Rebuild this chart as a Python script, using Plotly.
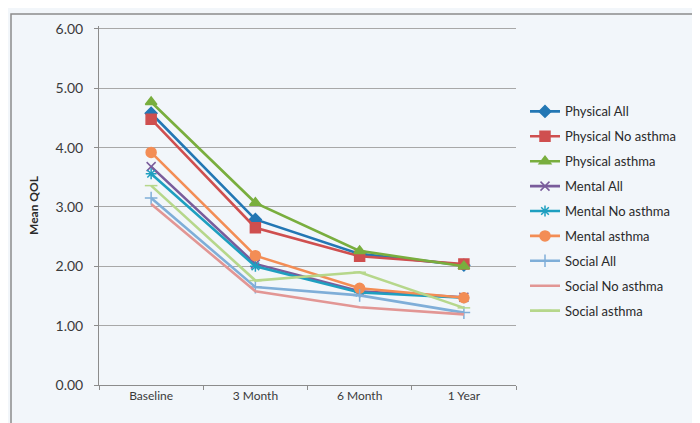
import plotly.graph_objects as go

categories = ["Baseline", "3 Month", "6 Month", "1 Year"]

series_names = ["Physical All", "Physical No asthma", "Physical asthma",
                "Mental All", "Mental No asthma", "Mental asthma",
                "Social All", "Social No asthma", "Social asthma"]

physical_all = [4.58, 2.79, 2.21, 2.02]
physical_no_asthma = [4.48, 2.65, 2.17, 2.04]
physical_asthma = [4.77, 3.07, 2.26, 2.00]
mental_all = [3.68, 2.04, 1.58, 1.48]
mental_no_asthma = [3.56, 2.00, 1.56, 1.47]
mental_asthma = [3.92, 2.18, 1.63, 1.47]
social_all = [3.15, 1.65, 1.51, 1.22]
social_no_asthma = [3.05, 1.58, 1.31, 1.19]
social_asthma = [3.36, 1.76, 1.90, 1.30]

values = [physical_all, physical_no_asthma, physical_asthma,
          mental_all, mental_no_asthma, mental_asthma,
          social_all, social_no_asthma, social_asthma]

colors = ["#2377B4", "#CF4F4F", "#79AE3E", "#7A5C9B", "#1E9FC0",
          "#F38D55", "#7FAED8", "#E29694", "#B6D78B"]
symbols = ["diamond", "square", "triangle-up", "x-thin-open", "asterisk-open",
           "circle", "cross-thin-open", None, "line-ew-open"]
sizes = [9, 10, 10, 9, 9, 10, 9, 0, 9]

fig = go.Figure()
for i, (name, vals) in enumerate(zip(series_names, values)):
    if symbols[i] is None:
        fig.add_trace(go.Scatter(
            x=categories, y=vals, name=name, mode="lines", legendgroup=name,
            line=dict(color=colors[i], width=2.6)))
    else:
        fig.add_trace(go.Scatter(
            x=categories, y=vals, name=name, mode="lines+markers",
            legendgroup=name,
            line=dict(color=colors[i], width=2.6),
            marker=dict(symbol=symbols[i], size=sizes[i], color=colors[i],
                        line=dict(color=colors[i], width=1.5)),
        ))

L, R, T, B = 91, 192, 15, 46
W, H = 700, 423
pw = W - L - R
ph = H - T - B

def px_x(p):
    return (p - L) / pw

def px_y(p):
    return (H - B - p) / ph

fig.add_shape(type="rect", xref="paper", yref="paper",
              x0=px_x(3), x1=px_x(697), y0=px_y(420), y1=px_y(3),
              line=dict(color="#8C8C8C", width=1.5), layer="below")

fig.update_layout(
    width=W, height=H,
    margin=dict(l=L, r=R, t=T, b=B),
    paper_bgcolor="#F2F6FA",
    plot_bgcolor="#F2F6FA",
    font=dict(family="Lato, Open Sans, sans-serif", size=12, color="#3A3A3A"),
    showlegend=True,
    legend=dict(x=px_x(517), xanchor="left", y=px_y(202), yanchor="middle",
                font=dict(size=13, color="#2A2A2A"), tracegroupgap=5,
                bgcolor="rgba(0,0,0,0)", itemwidth=30),
    xaxis=dict(type="category", tickson="boundaries", ticks="outside",
               ticklen=4, tickcolor="#8C8C8C", showline=True,
               linecolor="#8C8C8C", linewidth=1, showgrid=False,
               tickfont=dict(size=12, color="#3A3A3A"), range=[-0.5, 3.5]),
    yaxis=dict(range=[0, 6.05], tickvals=[0, 1, 2, 3, 4, 5, 6],
               tickformat=".2f", ticks="outside", ticklabelstandoff=8,
               ticklen=4, tickcolor="#8C8C8C", showline=True,
               linecolor="#8C8C8C", linewidth=1, showgrid=True,
               gridcolor="#A8A8A8", gridwidth=1, zeroline=False,
               tickfont=dict(size=14, color="#3A3A3A"),
               title=dict(text="<b>Mean QOL</b>", font=dict(size=12, color="#2A2A2A"),
                          standoff=14)),
)

fig.write_html("out.html")
